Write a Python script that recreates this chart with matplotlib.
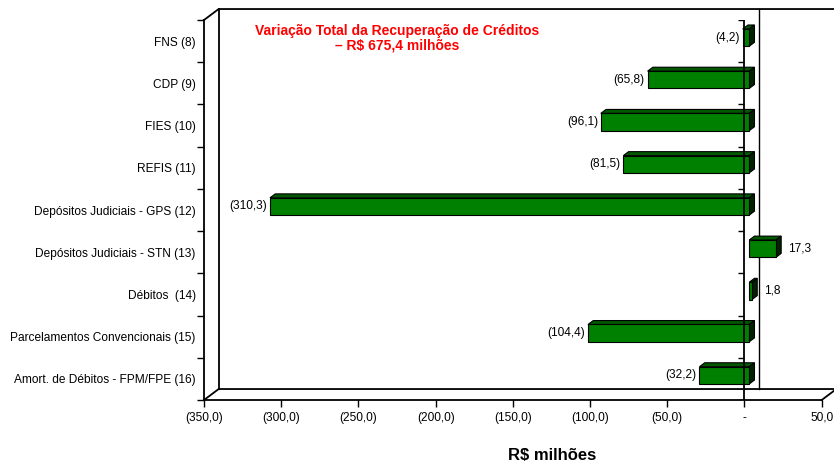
import matplotlib

matplotlib.use("Agg")

import matplotlib.pyplot as plt
from matplotlib.patches import Polygon, Rectangle

plt.rcParams["font.family"] = ["Liberation Sans", "DejaVu Sans"]

categories = [
    "FNS (8)",
    "CDP (9)",
    "FIES (10)",
    "REFIS (11)",
    "Depósitos Judiciais - GPS (12)",
    "Depósitos Judiciais - STN (13)",
    "Débitos  (14)",
    "Parcelamentos Convencionais (15)",
    "Amort. de Débitos - FPM/FPE (16)",
]
values = [-4.2, -65.8, -96.1, -81.5, -310.3, 17.3, 1.8, -104.4, -32.2]
x_ticks = [-350, -300, -250, -200, -150, -100, -50, 0, 50]
title = "Variação Total da Recuperação de Créditos\n– R$ 675,4 milhões"
xlabel = "R$ milhões"

FRONT = "#008000"
TOP = "#005800"
SIDE = "#002400"
FS = 8.6

# depth of the 3D box in data units (value, category)
DX, DY = 9.5, -0.26
F0, F1 = 0.32, 0.68  # bar depth range, as fraction of box depth
BAR_H = 0.41


def fmt(v):
    if v == 0:
        return "-"
    s = f"{abs(v):.1f}".replace(".", ",")
    return f"({s})" if v < 0 else s


fig = plt.figure(figsize=(8.34, 4.61), dpi=100)
W, H = 834, 461
ax = fig.add_axes([204 / W, 1 - 400 / H, (821.7 - 204) / W, (400 - 20) / H])
n = len(categories)
ax.set_xlim(x_ticks[0], x_ticks[-1])
ax.set_ylim(n, 0)
ax.patch.set_visible(False)

for side in ("top", "right"):
    ax.spines[side].set_visible(False)
for side in ("left", "bottom"):
    ax.spines[side].set_linewidth(1.3)

ax.set_xticks(x_ticks)
ax.set_xticklabels([fmt(t) for t in x_ticks], fontsize=FS)
ax.set_yticks(range(n + 1))
ax.set_yticklabels([])
ax.set_yticks([i + 0.5 for i in range(n)], minor=True)
ax.set_yticklabels(categories, minor=True, fontsize=FS)
ax.tick_params(axis="both", which="major", direction="out", length=5, width=1)
ax.tick_params(axis="y", which="minor", length=0, pad=6)
ax.tick_params(axis="x", pad=3.5)

# back wall and floor outline
x0, x1 = x_ticks[0], x_ticks[-1]
line_kw = dict(color="black", lw=1.3, clip_on=False, zorder=1)
ax.plot([x0, x0 + DX, x1 + 40], [0, DY, DY], **line_kw)
ax.plot([x0 + DX, x0 + DX], [DY, n + DY], **line_kw)
ax.plot([x0, x0 + DX, x1 + 40], [n, n + DY, n + DY], **line_kw)
ax.plot([x1, x1 + DX], [n, n + DY], **line_kw)
ax.plot([DX, DX], [DY, n + DY], color="black", lw=1, clip_on=False, zorder=1)

# 3D bars
for i, v in enumerate(values):
    left = min(0, v) + F0 * DX
    right = max(0, v) + F0 * DX
    yt = i + 0.5 - BAR_H / 2 + F0 * DY
    yb = yt + BAR_H
    d = F1 - F0
    ex, ey = d * DX, d * DY
    ax.add_patch(Polygon([(left, yt), (right, yt), (right + ex, yt + ey), (left + ex, yt + ey)],
                         facecolor=TOP, edgecolor="black", lw=0.8, zorder=3))
    ax.add_patch(Polygon([(right, yt), (right, yb), (right + ex, yb + ey), (right + ex, yt + ey)],
                         facecolor=SIDE, edgecolor="black", lw=0.8, zorder=3))
    ax.add_patch(Rectangle((left, yt), right - left, BAR_H,
                           facecolor=FRONT, edgecolor="black", lw=0.8, zorder=4))
    if v < 0:
        ax.annotate(fmt(v), (left, yt + BAR_H / 2), xytext=(-2, 0), textcoords="offset points",
                    ha="right", va="center", fontsize=FS)
    else:
        ax.annotate(fmt(v), (right + ex, yt + BAR_H / 2), xytext=(5, 0), textcoords="offset points",
                    ha="left", va="center", fontsize=FS)

# front category axis at zero, drawn over the bars
ax.plot([0, 0], [0, n], color="black", lw=1.3, zorder=5)
ax.hlines(range(n + 1), -4.5, 0, color="black", lw=1, zorder=5)

fig.text(397 / W, 1 - 38.5 / H, title, color="#ff0000", fontsize=10, fontweight="bold",
         ha="center", va="center", linespacing=1.05)
fig.text(552 / W, 1 - 455 / H, xlabel, fontsize=12, fontweight="bold",
         ha="center", va="center")

fig.savefig("out.png", dpi=100)
